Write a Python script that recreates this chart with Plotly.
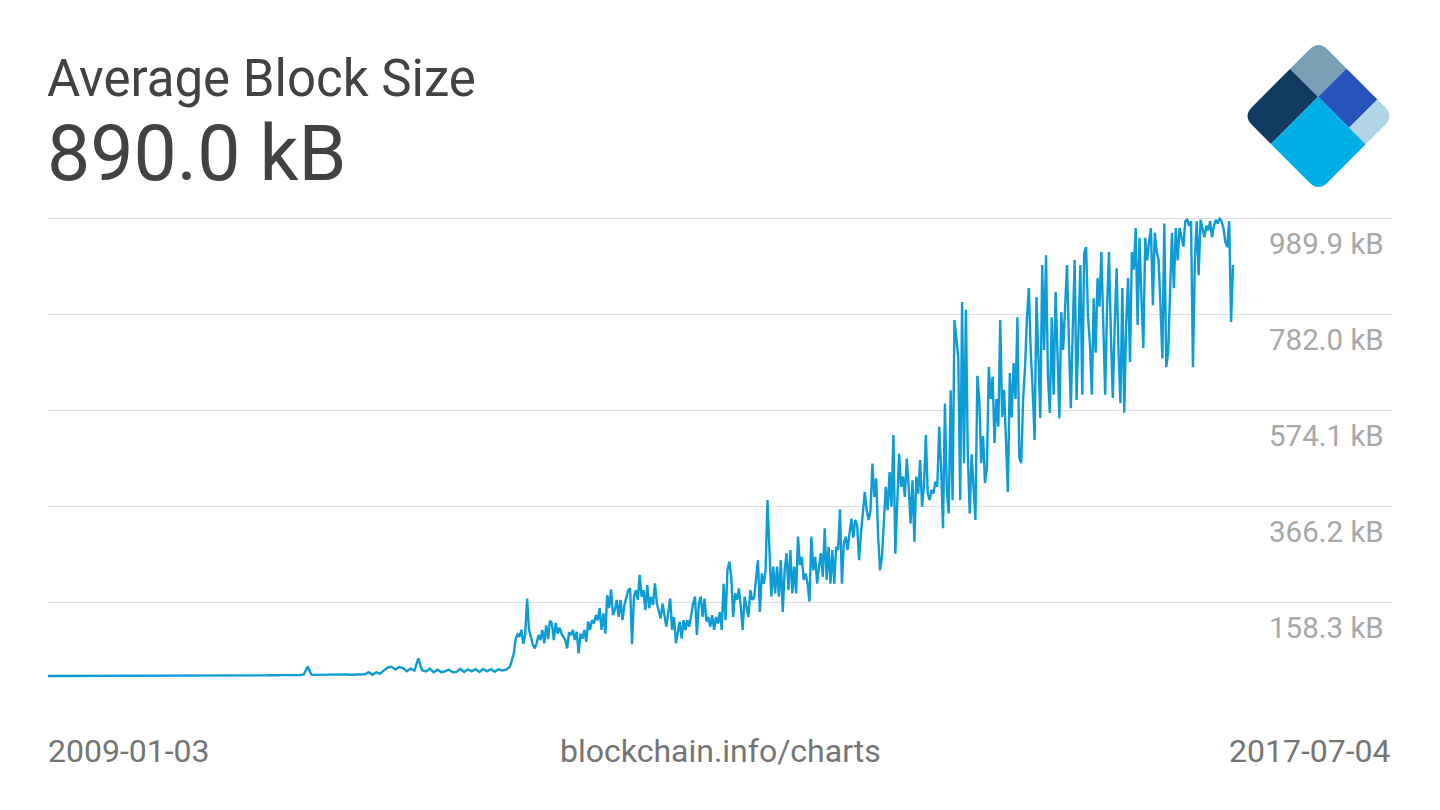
import pandas as pd
import plotly.graph_objs as go

# average block size in kB
# every 10 days up to late April 2012
size_2009_2012 = [
    0.2, 0.2, 0.2, 0.2, 0.2, 0.2, 0.2, 0.2, 0.2, 0.2,
    0.2, 0.2, 0.2, 0.2, 0.2, 0.2, 0.2, 0.2, 0.2, 0.3,
    0.2, 0.2, 0.2, 0.2, 0.3, 0.2, 0.2, 0.2, 0.3, 0.2,
    0.2, 0.3, 0.2, 0.2, 0.3, 0.3, 0.2, 0.3, 0.3, 0.4,
    0.3, 0.3, 0.4, 0.4, 0.3, 0.5, 0.4, 0.5, 0.6, 0.5,
    0.6, 0.7, 0.8, 0.9, 1.0, 1.5, 1.2, 1.6, 2.0, 1.4,
    1.8, 2.2, 2.5, 3.1, 2.8, 2.2, 2.0, 3.4, 20.5,
    3.2, 2.6, 2.8, 3.0, 2.4, 3.6, 2.9, 2.7, 3.3, 3.8,
    2.9, 3.1, 3.5, 2.6, 3.9,
    8.5, 2.8, 8.1, 5.4, 12.3, 18.6, 20.1, 14.2, 19.8, 17.5,
    10.4, 16.2, 12.0, 38.2, 12.5, 10.1, 16.4, 8.2, 13.9, 8.6,
    10.3, 14.1, 8.4, 9.2, 15.8, 9.0, 14.3, 10.2, 15.1, 9.1,
    15.4, 10.3, 15.2, 9.4, 14.8, 12.1, 14.0, 20.3,
]
# every 5 days from May 2012
size_2012_2015 = [
    34, 48, 80, 90, 85, 100, 70, 90, 168, 100,
    85, 68, 60, 71, 89, 78, 100, 71, 110, 80,
    120, 114, 78, 115, 92, 105, 92, 85, 78, 60,
    95, 89, 100, 78, 96, 49, 92, 81, 100, 74,
    118, 100, 121, 114, 132, 121, 147, 100, 136, 92,
    175, 147, 188, 132, 143, 165, 128, 165, 121, 154,
    172, 186, 190, 69, 172, 186, 165, 219, 172, 186,
    143, 197, 147, 172, 154, 201, 157, 143, 125, 157,
    136, 107, 139, 168, 100, 128, 71, 100, 118, 81,
    121, 100, 121, 107, 136, 157, 172, 89, 157, 172,
    128, 168, 118, 128, 107, 132, 100, 128, 114, 139,
    100, 200, 121, 229, 248, 215, 128, 179, 165, 190,
    150, 100, 172, 150, 128, 186, 165, 170, 215, 251,
    139, 222, 200, 229, 381, 255, 172, 237, 179, 237,
    172, 251, 139, 229, 266, 186, 273, 179, 237, 179,
    302, 240, 258, 208, 222, 200, 161, 302, 229, 258,
    200, 237, 266, 215, 320, 208, 280, 200, 273, 200,
    280, 273, 361, 200, 287, 302, 273, 309, 341, 300,
    338, 327, 251, 309, 359, 399, 359, 338, 359, 460,
    388, 428, 302, 229, 258, 338, 410, 359, 442, 367,
    522, 265, 388, 482, 410, 432, 388, 471, 410, 330,
    424, 291, 432, 395, 468, 367, 410, 522, 395, 381,
    403, 395, 421, 410,
]
size_2015_2017 = [
    540, 450, 320, 590, 400, 352, 619, 381, 771, 725,
    690, 381, 810, 461, 793, 480, 352, 480, 420, 338,
    650, 600, 461, 520, 418, 450, 669, 600, 648, 505,
    600, 540, 771, 561, 620, 500, 398, 656, 560, 678,
    600, 777, 472, 461, 600, 669, 777, 840, 700, 620,
    511, 821, 680, 559, 890, 706, 911, 648, 570, 777,
    609, 832, 700, 558, 788, 706, 800, 890, 721, 580,
    750, 901, 598, 750, 890, 609, 916, 929, 780, 720,
    609, 818, 700, 862, 800, 918, 760, 609, 800, 918,
    740, 602, 760, 883, 700, 591, 840, 570, 760, 862,
    680, 918, 880, 970, 760, 949, 820, 710, 949, 900,
    940, 970, 803, 960, 920, 900, 800, 688, 980, 669,
    700, 850, 960, 840, 970, 900, 970, 950, 930, 985,
    988, 975, 985, 669, 900, 985, 868, 988, 970, 950,
    975, 965, 985, 950, 975, 988, 980, 990, 985, 970,
    940, 929, 985, 767, 890.0,
]

start_date = '2009-01-03'
dense_start = '2012-05-02'
end_date = '2017-07-04'

grid_values = [-49.6, 158.3, 366.2, 574.1, 782.0, 989.9]
label_values = [158.3, 366.2, 574.1, 782.0, 989.9]
label_texts = ['158.3 kB', '366.2 kB', '574.1 kB', '782.0 kB', '989.9 kB']

title_text = 'Average Block Size'
source_text = 'blockchain.info/charts'

dense = size_2012_2015 + size_2015_2017
sizes = size_2009_2012 + dense
dates = pd.date_range(start_date, periods=len(size_2009_2012), freq='10D').append(
    pd.date_range(dense_start, end_date, periods=len(dense)))

# x axis leaves room on the right for the value labels
span = dates[-1] - dates[0]
x_end = dates[0] + span * (1345.0 / 1185.0)

FONT = 'Roboto'

trace = go.Scatter(
    x=dates,
    y=sizes,
    mode='lines',
    line=dict(color='#0e9cd6', width=2.4),
    hoverinfo='x+y',
)

# the page body adds an 8px margin, so the figure is 8px smaller
layout = go.Layout(
    width=1432,
    height=802,
    margin=dict(l=40, r=47, t=202, b=111),
    paper_bgcolor='white',
    plot_bgcolor='white',
    showlegend=False,
    font=dict(family=FONT),
    xaxis=dict(
        type='date',
        range=[dates[0], x_end],
        showgrid=False,
        showticklabels=False,
        zeroline=False,
        showline=False,
        ticks='',
    ),
    yaxis=dict(
        range=[-49.6, 1009.2],
        tickvals=grid_values,
        showticklabels=False,
        showgrid=True,
        gridcolor='#dcdcdc',
        gridwidth=1,
        zeroline=False,
        showline=False,
        ticks='',
    ),
)

annotations = []

# value labels sit just under their grid line
for v, t in zip(label_values, label_texts):
    annotations.append(dict(
        xref='paper', yref='y', x=1, y=v,
        xanchor='right', yanchor='middle',
        xshift=-7, yshift=-25.5,
        text=t, showarrow=False,
        font=dict(family=FONT, size=29.5, color='#a8a8a8'),
    ))

# header
annotations.append(dict(
    xref='paper', yref='paper', x=0, y=1,
    xanchor='left', yanchor='middle', xshift=-3, yshift=132,
    text=title_text, showarrow=False,
    font=dict(family=FONT, size=51, color='#424242'),
))
annotations.append(dict(
    xref='paper', yref='paper', x=0, y=1,
    xanchor='left', yanchor='middle', xshift=-3, yshift=56.5,
    text='%.1f kB' % sizes[-1], showarrow=False,
    font=dict(family=FONT, size=77, color='#424242'),
))

# footer
footer = [
    (0, 'left', -2, dates[0].strftime('%Y-%m-%d')),
    (0.5, 'center', 0, source_text),
    (1, 'right', 0, dates[-1].strftime('%Y-%m-%d')),
]
for fx, anchor, dx, text in footer:
    annotations.append(dict(
        xref='paper', yref='paper', x=fx, y=0,
        xanchor=anchor, yanchor='middle', xshift=dx, yshift=-52,
        text=text, showarrow=False,
        font=dict(family=FONT, size=32, color='#757575'),
    ))

layout['annotations'] = annotations


# logo: a rotated square split in five pieces, outer corners rounded
# (page pixel positions of its corners, plot area spans x 48..1393, y 210..699)
LOGO_LEFT = (1243.0, 116.0)
LOGO_TOP = (1318.5, 40.5)
LOGO_BOTTOM = (1318.5, 191.5)


def uv_to_paper(u, v):
    px = LOGO_LEFT[0] + u * (LOGO_TOP[0] - LOGO_LEFT[0]) + v * (LOGO_BOTTOM[0] - LOGO_LEFT[0])
    py = LOGO_LEFT[1] + u * (LOGO_TOP[1] - LOGO_LEFT[1]) + v * (LOGO_BOTTOM[1] - LOGO_LEFT[1])
    return (px - 48) / 1345.0, (699 - py) / 489.0


def piece_path(u0, u1, v0, v1, rounded=None, r=0.12):
    corners = [(u0, v0), (u1, v0), (u1, v1), (u0, v1)]
    parts = []
    for k, c in enumerate(corners):
        prev = corners[k - 1]
        nxt = corners[(k + 1) % 4]
        if c == rounded:
            def toward(a, b):
                du, dv = b[0] - a[0], b[1] - a[1]
                d = (du ** 2 + dv ** 2) ** 0.5
                return (a[0] + r * du / d, a[1] + r * dv / d)
            p1 = uv_to_paper(*toward(c, prev))
            p2 = uv_to_paper(*toward(c, nxt))
            pc = uv_to_paper(*c)
            parts.append(('M' if not parts else 'L') + ' %f,%f' % p1)
            parts.append('Q %f,%f %f,%f' % (pc[0], pc[1], p2[0], p2[1]))
        else:
            pc = uv_to_paper(*c)
            parts.append(('M' if not parts else 'L') + ' %f,%f' % pc)
    return ' '.join(parts) + ' Z'


logo_pieces = [
    (0, 0.625, 0, 0.37, '#133a63', (0, 0)),
    (0.625, 1, 0, 0.37, '#7a9fb4', (1, 0)),
    (0.625, 1, 0.37, 0.78, '#2853bd', None),
    (0.625, 1, 0.78, 1, '#b1d5e6', (1, 1)),
    (0, 0.625, 0.37, 1, '#00aee6', (0, 1)),
]

shapes = []
for u0, u1, v0, v1, color, rounded in logo_pieces:
    shapes.append(dict(
        type='path', xref='paper', yref='paper',
        path=piece_path(u0, u1, v0, v1, rounded),
        fillcolor=color, line=dict(width=0), layer='above',
    ))
layout['shapes'] = shapes

fig = go.Figure(data=[trace], layout=layout)
fig.write_html('out.html')
